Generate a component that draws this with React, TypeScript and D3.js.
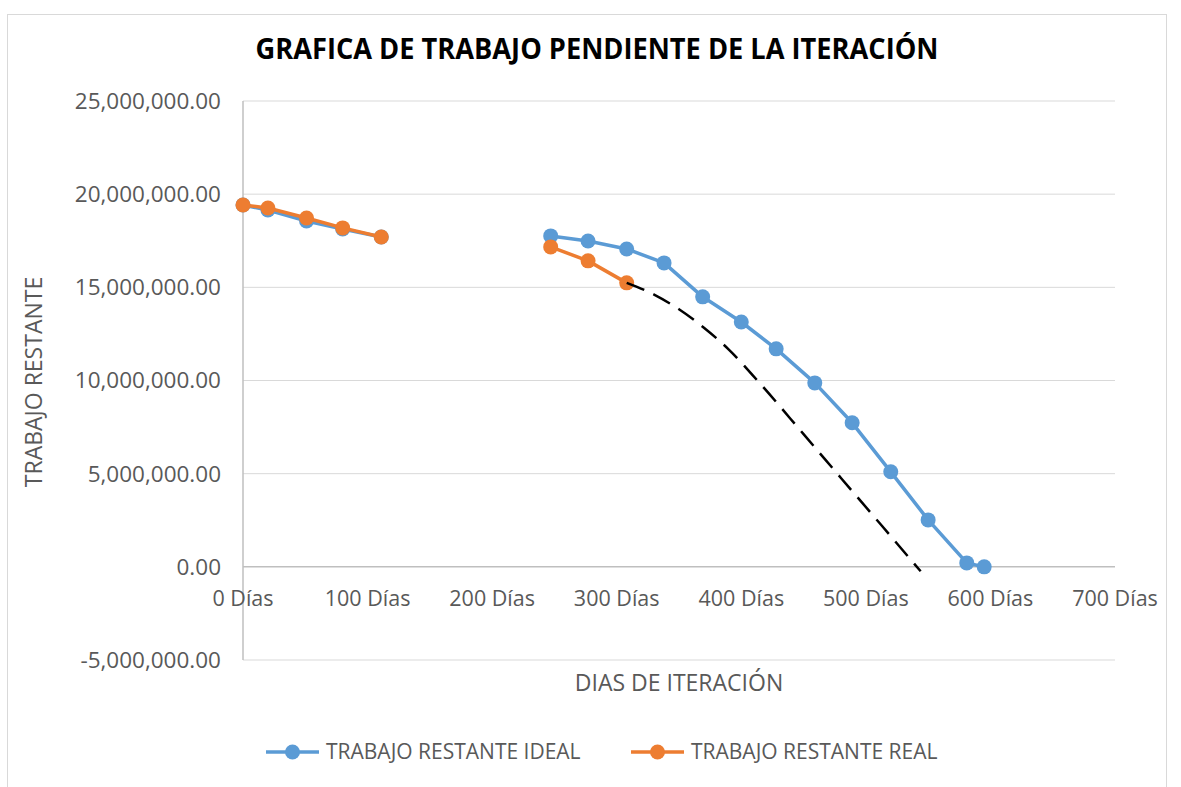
import React from "react";
import * as d3 from "d3";

// dias de iteracion y trabajo restante (millones)
const idealDays = [0, 20, 51, 80, 111, 247, 277, 308, 338, 369, 400, 428, 459, 489, 520, 550, 581, 595];
const idealValues = [19.42, 19.15, 18.56, 18.13, 17.7, 17.76, 17.49, 17.06, 16.31, 14.49, 13.14, 11.7, 9.87, 7.73, 5.1, 2.52, 0.21, 0];
const idealTramo = [0, 0, 0, 0, 0, 1, 1, 1, 1, 1, 1, 1, 1, 1, 1, 1, 1, 1];

const realDays = [0, 20, 51, 80, 111, 247, 277, 308];
const realValues = [19.42, 19.26, 18.72, 18.19, 17.7, 17.17, 16.42, 15.24];
const realTramo = [0, 0, 0, 0, 0, 1, 1, 1];

// linea de tendencia (punteada)
const trendDays = [308, 330, 350, 370, 390, 414, 450, 480, 512, 544];
const trendValues = [15.24, 14.61, 13.82, 12.83, 11.66, 9.92, 7.12, 4.77, 2.27, -0.24];

const yTicks = [-5, 0, 5, 10, 15, 20, 25];
const xTicks = [0, 100, 200, 300, 400, 500, 600, 700];

const BLUE = "#5B9BD5";
const ORANGE = "#ED7D31";
const TEXT = "#595959";
const FONT = "'Open Sans', sans-serif";

type Pt = { d: number; v: number; s: number };

function build(days: number[], values: number[], tramo: number[]): Pt[][] {
  const pts = days.map((d, i) => ({ d, v: values[i] * 1e6, s: tramo[i] }));
  const groups = d3.groups(pts, (p) => p.s);
  return groups.map((g) => g[1]);
}

export default function App() {
  const width = 1181;
  const height = 787;
  const left = 243;
  const right = 1115;
  const top = 101;
  const bottom = 660;

  const x = d3.scaleLinear().domain([0, 700]).range([left, right]);
  const y = d3.scaleLinear().domain([-5e6, 25e6]).range([bottom, top]);
  const fmt = (v: number) => d3.format(",.2f")(v).replace("\u2212", "-");

  const line = d3
    .line<Pt>()
    .x((p) => x(p.d))
    .y((p) => y(p.v));

  const ideal = build(idealDays, idealValues, idealTramo);
  const real = build(realDays, realValues, realTramo);
  const trend = trendDays.map((d, i) => ({ d, v: trendValues[i] * 1e6, s: 0 }));
  const trendLine = d3
    .line<Pt>()
    .x((p) => x(p.d))
    .y((p) => y(p.v))
    .curve(d3.curveMonotoneX);

  const series = [
    { name: "TRABAJO RESTANTE IDEAL", color: BLUE, groups: ideal },
    { name: "TRABAJO RESTANTE REAL", color: ORANGE, groups: real },
  ];

  const legendX = [266, 631];

  return (
    <svg
      width={width}
      height={height}
      style={{ position: "absolute", left: 0, top: 0, background: "#fff" }}
      fontFamily={FONT}
    >
      <rect x={7.5} y={14.5} width={1159} height={790} fill="#fff" stroke="#D9D9D9" />
      <text
        x={597}
        y={59}
        textAnchor="middle"
        fontSize={28}
        fontWeight="bold"
        fill="#000"
        textLength={683}
        lengthAdjust="spacingAndGlyphs"
      >
        GRAFICA DE TRABAJO PENDIENTE DE LA ITERACIÓN
      </text>

      {/* gridlines */}
      {yTicks.map((t) => (
        <line
          key={t}
          x1={left}
          x2={right}
          y1={y(t * 1e6)}
          y2={y(t * 1e6)}
          stroke={t === 0 ? "#BFBFBF" : "#D9D9D9"}
          strokeWidth={t === 0 ? 1.5 : 1}
        />
      ))}
      <line x1={left} x2={left} y1={top} y2={bottom} stroke="#BFBFBF" strokeWidth={1.5} />

      {yTicks.map((t) => (
        <text
          key={"yl" + t}
          x={221}
          y={y(t * 1e6)}
          dy="0.35em"
          textAnchor="end"
          fontSize={22.5}
          fill={TEXT}
        >
          {fmt(t * 1e6)}
        </text>
      ))}
      {xTicks.map((t) => (
        <text key={"xl" + t} x={x(t)} y={606} textAnchor="middle" fontSize={21.5} fill={TEXT}>
          {`${t} Días`}
        </text>
      ))}

      <text
        transform={`translate(42,382) rotate(-90)`}
        textAnchor="middle"
        fontSize={23}
        fill={TEXT}
      >
        TRABAJO RESTANTE
      </text>
      <text x={679} y={691} textAnchor="middle" fontSize={23} fill={TEXT}>
        DIAS DE ITERACIÓN
      </text>

      {series.map((s) => (
        <g key={s.name}>
          {s.groups.map((g, i) => (
            <path key={i} d={line(g) || ""} fill="none" stroke={s.color} strokeWidth={3.5} strokeLinejoin="round" />
          ))}
          {s.groups.flat().map((p, i) => (
            <circle key={"c" + i} cx={x(p.d)} cy={y(p.v)} r={7.5} fill={s.color} />
          ))}
        </g>
      ))}

      <path
        d={trendLine(trend) || ""}
        fill="none"
        stroke="#000"
        strokeWidth={2.5}
        strokeDasharray="19 10"
      />

      {series.map((s, i) => (
        <g key={"lg" + i} transform={`translate(${legendX[i]},752)`}>
          <line x1={0} x2={53} y1={0} y2={0} stroke={s.color} strokeWidth={3.5} />
          <circle cx={26.5} cy={0} r={7.5} fill={s.color} />
          <text x={60} y={0} dy="0.35em" fontSize={21} fill={TEXT}>
            {s.name}
          </text>
        </g>
      ))}
    </svg>
  );
}
